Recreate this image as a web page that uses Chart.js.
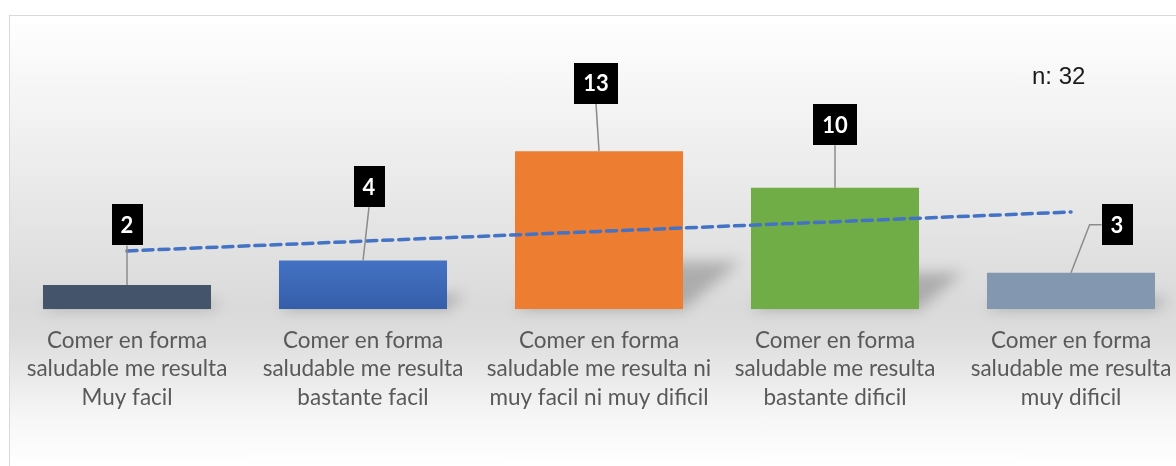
<!DOCTYPE html>
<html>
<head>
<meta charset="utf-8">
<script src="https://cdn.jsdelivr.net/npm/chart.js"></script>
<style>
    html, body { margin: 0; padding: 0; background: #fff; width: 1176px; height: 466px; overflow: hidden; }
    .frame {
        position: absolute; left: 9px; top: 15px; width: 1200px; height: 470px;
        border-left: 1px solid #d9d9d9; border-top: 1px solid #d9d9d9;
        background: linear-gradient(to bottom, #ffffff 0px, #ececec 150px, #dadada 290px, #dddddd 320px, #f6f6f6 400px, #ffffff 451px);
    }
    #wrap { position: absolute; left: 0; top: 0; width: 1200px; height: 466px; }
    .note {
        position: absolute; left: 1032px; top: 64px;
        font: 24px "Liberation Sans", Arial, sans-serif; line-height: 24px; color: #1a1a1a;
    }
</style>
</head>
<body>
<div class="frame"></div>
<div id="wrap"><canvas id="chart" width="1200" height="466"></canvas></div>
<div class="note">n: 32</div>
<script>
// Chart data
const categories = [
    ['Comer en forma', 'saludable me resulta', 'Muy facil'],
    ['Comer en forma', 'saludable me resulta', 'bastante facil'],
    ['Comer en forma', 'saludable me resulta ni', 'muy facil ni muy dificil'],
    ['Comer en forma', 'saludable me resulta', 'bastante dificil'],
    ['Comer en forma', 'saludable me resulta', 'muy dificil']
];
const counts = [2, 4, 13, 10, 3];
const trendValues = [4.8, 5.6, 6.4, 7.2, 8.0];

// Styling
const barColors = ['#44546a', '#4472c4', '#ed7d31', '#70ad47', '#8497b0'];
// label box centre relative to bar top centre, and where the leader leaves the box
const labelOffsets = [[0, -60], [6, -74], [-3, -68], [0, -63], [46, -48]];
const leaderFrom = ['bottom', 'bottom', 'bottom', 'bottom', 'left'];
const BAR_SET = 1;

// Perspective shadow behind each bar
const barShadow = {
    id: 'barShadow',
    beforeDatasetsDraw(chart) {
        const meta = chart.getDatasetMeta(BAR_SET);
        const ctx = chart.ctx;
        ctx.save();
        ctx.filter = 'blur(7px)';
        ctx.fillStyle = 'rgba(0, 0, 0, 0.22)';
        meta.data.forEach(bar => {
            const xl = bar.x - bar.width / 2;
            const xr = bar.x + bar.width / 2;
            const h = (bar.base - bar.y) * 0.3;
            const skew = h * 1.2;
            ctx.beginPath();
            ctx.moveTo(xl, bar.base);
            ctx.lineTo(xr, bar.base);
            ctx.lineTo(xr + skew, bar.base - h);
            ctx.lineTo(xl + skew, bar.base - h);
            ctx.closePath();
            ctx.fill();
        });
        ctx.restore();
    }
};

// Black value boxes with leader lines
const valueBoxes = {
    id: 'valueBoxes',
    afterDatasetsDraw(chart) {
        const meta = chart.getDatasetMeta(BAR_SET);
        const ctx = chart.ctx;
        ctx.save();
        ctx.font = 'bold 22px Lato, "Open Sans", sans-serif';
        meta.data.forEach((bar, i) => {
            const text = String(counts[i]);
            const w = ctx.measureText(text).width + 18;
            const h = 41;
            const cx = bar.x + labelOffsets[i][0];
            const cy = bar.y + labelOffsets[i][1];

            ctx.strokeStyle = '#8c8c8c';
            ctx.lineWidth = 1.5;
            ctx.beginPath();
            if (leaderFrom[i] === 'left') {
                ctx.moveTo(cx - w / 2, cy);
                ctx.lineTo(cx - w / 2 - 12, cy);
            } else {
                ctx.moveTo(cx, cy + h / 2);
            }
            ctx.lineTo(bar.x, bar.y);
            ctx.stroke();

            ctx.fillStyle = '#000';
            ctx.fillRect(Math.round(cx - w / 2), Math.round(cy - h / 2), Math.round(w), h);
            ctx.fillStyle = '#fff';
            ctx.textAlign = 'center';
            ctx.textBaseline = 'middle';
            ctx.fillText(text, cx, cy + 1);
        });
        ctx.restore();
    }
};

const ctx = document.getElementById('chart');
new Chart(ctx, {
    data: {
        labels: categories,
        datasets: [
            {
                type: 'line',
                label: 'Tendencia',
                data: trendValues,
                borderColor: '#4472c4',
                borderWidth: 3.5,
                borderDash: [10, 6],
                borderCapStyle: 'round',
                pointRadius: 0,
                fill: false,
                order: 0
            },
            {
                type: 'bar',
                label: 'Respuestas',
                data: counts,
                backgroundColor: (c) => {
                    if (c.dataIndex !== 1) return barColors[c.dataIndex];
                    const area = c.chart.chartArea;
                    if (!area) return barColors[1];
                    const g = c.chart.ctx.createLinearGradient(0, 260, 0, area.bottom);
                    g.addColorStop(0, '#4472c4');
                    g.addColorStop(1, '#355ea9');
                    return g;
                },
                barPercentage: 0.712,
                categoryPercentage: 1,
                order: 1
            }
        ]
    },
    options: {
        responsive: false,
        devicePixelRatio: 1,
        animation: false,
        layout: { padding: { left: 9, right: 11, top: 66, bottom: 37 } },
        plugins: {
            legend: { display: false },
            tooltip: { enabled: false }
        },
        scales: {
            x: {
                grid: { display: false, drawTicks: false },
                border: { display: false },
                ticks: {
                    color: '#595959',
                    font: { family: 'Lato, "Open Sans", sans-serif', size: 22.5, lineHeight: 1.27 },
                    padding: 17,
                    autoSkip: false,
                    maxRotation: 0
                }
            },
            y: {
                display: false,
                min: 0,
                max: 20
            }
        }
    },
    plugins: [barShadow, valueBoxes]
});
</script>
</body>
</html>
